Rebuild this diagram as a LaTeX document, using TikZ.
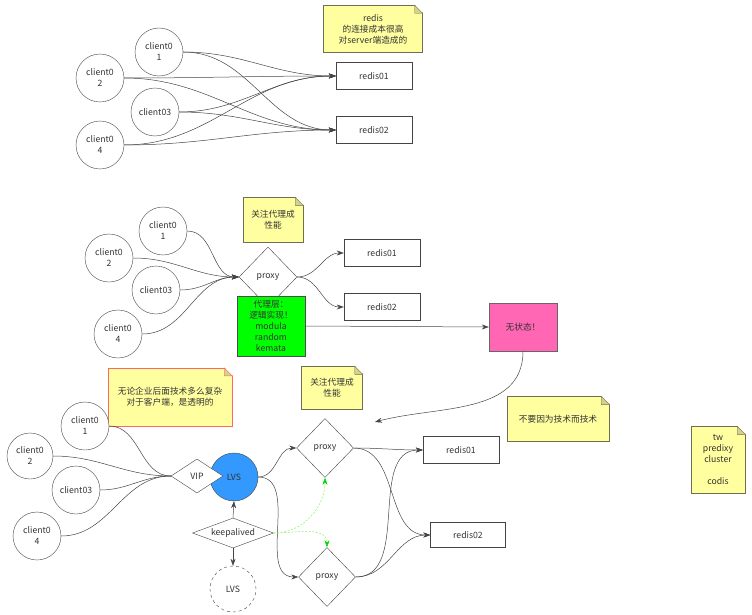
\documentclass[tikz,border=0pt]{standalone}
\usepackage{fontspec}
\setmainfont{Noto Sans CJK SC}
\usetikzlibrary{arrows.meta, shapes.geometric}

\definecolor{notefill}{HTML}{FFFFA0}
\definecolor{notedraw}{HTML}{6E6E50}
\definecolor{folddark}{HTML}{D2D28C}
\definecolor{linegray}{HTML}{444444}
\definecolor{lvsblue}{HTML}{3399FF}
\definecolor{logicgreen}{HTML}{00FF00}
\definecolor{statepink}{HTML}{FF66B3}
\definecolor{warnred}{HTML}{FF6666}
\definecolor{haline}{HTML}{88F266}

\begin{document}
\begin{tikzpicture}[
  x=1pt, y=-1pt,
  font=\fontsize{8.7}{11}\selectfont,
  every node/.style={text=black!80},
  client/.style={circle, draw=linegray, fill=white, minimum size=48pt, inner sep=0pt, align=center},
  redisbox/.style={draw=linegray, fill=white, minimum width=76pt, minimum height=27pt},
  gate/.style={diamond, draw=linegray, fill=white, inner sep=0pt, minimum width=58pt, minimum height=60pt},
  note/.style={draw=notedraw, fill=notefill, align=center, inner sep=2pt},
  link/.style={-{Stealth[length=7pt, width=5pt]}, draw=linegray, line width=0.5pt},
  plain/.style={draw=linegray, line width=0.5pt},
  halink/.style={-{Stealth[length=7pt, width=5pt, color=green!85!black]}, draw=haline,
    dash pattern=on 2pt off 1.5pt, line width=0.5pt}
]
\useasboundingbox (0,0) rectangle (752,615);

% direct connections
\node[client] (ta1) at (159,52) {client0\\1};
\node[client] (ta2) at (100,78) {client0\\2};
\node[client] (ta3) at (155,112) {client03};
\node[client] (ta4) at (100,145) {client0\\4};
\node[redisbox] (tr1) at (374,76) {redis01};
\node[redisbox] (tr2) at (374,130) {redis02};
\node[note, minimum width=99pt, minimum height=47pt] (tn) at (373,29) {redis\\的连接成本很高\\对server端造成的};
\foreach \c in {ta1,ta2,ta3,ta4}
  \foreach \r in {tr1,tr2}
    \draw[link] (\c.east) to[out=0, in=180] (\r.west);

% proxy layer
\node[client] (ma1) at (163,231) {client0\\1};
\node[client] (ma2) at (109,258) {client0\\2};
\node[client] (ma3) at (156,290) {client03};
\node[client] (ma4) at (118,334) {client0\\4};
\node[gate] (mp) at (268,277) {proxy};
\node[redisbox] (mr1) at (382,253) {redis01};
\node[redisbox] (mr2) at (382,307) {redis02};
\node[note, minimum width=60pt, minimum height=45pt] (mn) at (273,220) {关注代理成\\性能};
\node[draw=black!70, fill=logicgreen, minimum width=68pt, minimum height=60pt, align=center, inner sep=1pt] (logic) at (271,326)
  {代理层：\\逻辑实现！\\modula\\random\\kemata};
\node[draw=black!60, fill=statepink, minimum width=68pt, minimum height=48pt] (stateless) at (523,327) {无状态！};
\node[note, minimum width=61pt, minimum height=43pt] (mn2) at (332,388) {关注代理成\\性能};
\coordinate (drop) at (375,422);
\foreach \c in {ma1,ma2,ma3,ma4}
  \draw[link] (\c.east) to[out=0, in=180] (mp.west);
\draw[link] (mp.east) to[out=0, in=180] (mr1.west);
\draw[link] (mp.east) to[out=0, in=180] (mr2.west);
\draw[link] (logic.east) -- (stateless.west);
\draw[link] (stateless.south) to[out=-90, in=15] (drop);

% lvs + keepalived
\node[note, draw=warnred, minimum width=124pt, minimum height=58pt] (bn) at (170,397) {无论企业后面技术多么复杂\\对于客户端，是透明的};
\node[client] (ba1) at (85,426) {client0\\1};
\node[client, minimum size=46pt] (ba2) at (30,456) {client0\\2};
\node[client] (ba3) at (76,490) {client03};
\node[client] (ba4) at (37,536) {client0\\4};
\node[client, fill=lvsblue] (lvs) at (234,477) {LVS};
\node[gate, aspect=1.5, minimum width=52pt, minimum height=34pt] (vip) at (197,476) {VIP};
\node[gate, aspect=2.7, minimum width=81pt, minimum height=30pt] (ka) at (233,533) {keepalived};
\node[client, dashed, minimum size=46pt] (lvsb) at (233,589) {LVS};
\node[gate, minimum width=57pt, minimum height=59pt] (bp1) at (325,448) {proxy};
\node[gate, minimum width=57pt, minimum height=59pt] (bp2) at (327,577) {proxy};
\node[redisbox] (br1) at (461,450) {redis01};
\node[redisbox, minimum width=75pt, minimum height=25pt] (br2) at (468,535) {redis02};
\node[note, minimum width=102pt, minimum height=45pt] (bn2) at (558,419) {不要因为技术而技术};
\node[note, minimum width=54pt, minimum height=67pt] (bn3) at (718,460) {tw\\predixy\\cluster\\[11pt]codis};
\foreach \c in {ba1,ba2,ba3,ba4}
  \draw[plain] (\c.east) to[out=0, in=180] (vip.west);
\draw[link] (lvs.east) to[out=0, in=180] (bp1.west);
\draw[link] (lvs.east) to[out=0, in=180] (bp2.west);
\draw[link] (ka.north) -- (lvs.south);
\draw[link] (ka.south) -- (lvsb.north);
\draw[halink] (ka.east) to[out=0, in=-90] (bp1.south);
\draw[halink] (ka.east) to[out=0, in=90] (bp2.north);
\foreach \p in {bp1,bp2}
  \foreach \r in {br1,br2}
    \draw[link] (\p.east) to[out=0, in=180] (\r.west);

% folded corners of the notes
\foreach \n/\col in {tn/notedraw, mn/notedraw, mn2/notedraw, bn/warnred, bn2/notedraw, bn3/notedraw} {
  \fill[white] ([shift={(-8pt,0.8pt)}]\n.north east) -- ([shift={(0.8pt,0.8pt)}]\n.north east)
    -- ([shift={(0.8pt,-8pt)}]\n.north east) -- cycle;
  \draw[\col, fill=folddark] ([shift={(-8pt,0pt)}]\n.north east) -- ([shift={(0pt,-8pt)}]\n.north east)
    -- ([shift={(-8pt,-8pt)}]\n.north east) -- cycle;
}
\end{tikzpicture}
\end{document}
